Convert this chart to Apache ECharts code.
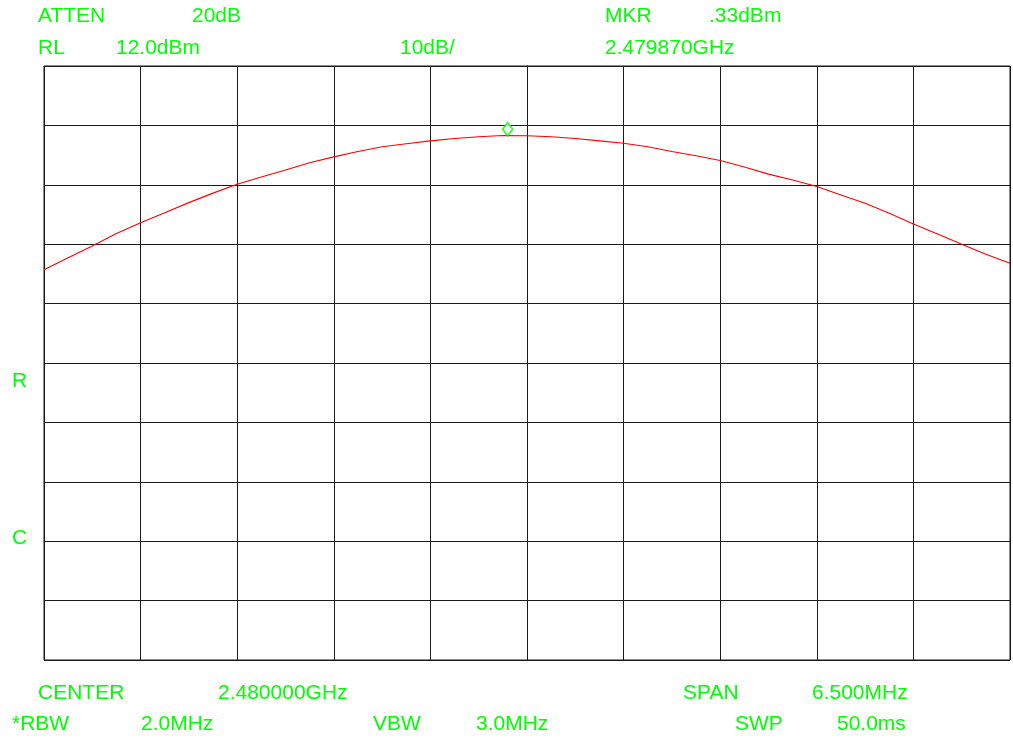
<!DOCTYPE html>
<html>
<head>
<meta charset="utf-8">
<script src="https://cdn.jsdelivr.net/npm/echarts@6/dist/echarts.min.js"></script>
<style>
html,body{margin:0;padding:0;background:#fff;}
#chart{width:1013px;height:740px;}
</style>
</head>
<body>
<div id="chart"></div>
<script>
// Reference level and scale
const refLevel = 12.0;          // dBm (RL)
const dbPerDiv = 10;
const spanKHz = 6500;           // 6.500 MHz span
const divKHz = 650;

// Trace: frequency offsets from center (kHz) and level (dBm)
const freqOffsetsKHz = [
  -3250,-3087.5,-2925,-2762.5,-2600,-2437.5,-2275,-2112.5,-1950,-1787.5,
  -1625,-1462.5,-1300,-1137.5,-975,-812.5,-650,-487.5,-325,-162.5,
  0,162.5,325,487.5,650,812.5,975,1137.5,1300,1462.5,
  1625,1787.5,1950,2112.5,2275,2437.5,2600,2762.5,2925,3087.5,3250
];
const traceDbm = [
  -22.3,-20.3,-18.3,-16.2,-14.4,-12.7,-11.0,-9.4,-7.9,-6.7,
  -5.5,-4.3,-3.3,-2.4,-1.6,-1.1,-0.6,-0.2,0.1,0.3,
  0.25,0.1,-0.2,-0.6,-1.0,-1.6,-2.4,-3.1,-3.9,-5.0,
  -6.2,-7.2,-8.3,-9.7,-11.1,-12.8,-14.6,-16.3,-18.0,-19.7,-21.2
];

// Marker
const markerOffsetKHz = -130;   // 2.479870 GHz
const markerDbm = 0.33;

// Annotation texts
const topTexts = [
  ['ATTEN', 38, 16], ['20dB', 192, 16], ['MKR', 605, 16], ['.33dBm', 709, 16],
  ['RL', 38, 48], ['12.0dBm', 116, 48], ['10dB/', 400, 48], ['2.479870GHz', 605, 48]
];
const bottomTexts = [
  ['CENTER', 38, 693], ['2.480000GHz', 218, 693], ['SPAN', 683, 693], ['6.500MHz', 812, 693],
  ['*RBW', 12, 724], ['2.0MHz', 141, 724], ['VBW', 373, 724], ['3.0MHz', 476, 724],
  ['SWP', 735, 724], ['50.0ms', 837, 724]
];
const sideTexts = [['R', 12, 381], ['C', 12, 538]];

const green = '#00ff00';
const traceData = freqOffsetsKHz.map((f, i) => [f, traceDbm[i] - refLevel]);

const textEls = topTexts.concat(bottomTexts, sideTexts).map(t => ({
  type: 'text', left: t[1], top: t[2] - 10,
  style: { text: t[0], fill: green, font: '21px "Liberation Sans", Arial, sans-serif' }
}));

const chart = echarts.init(document.getElementById('chart'), null, {renderer: 'canvas'});
chart.setOption({
  animation: false,
  backgroundColor: '#ffffff',
  grid: { left: 44, top: 66, width: 966, height: 594, show: true, borderColor: '#1a1a1a', borderWidth: 1 },
  xAxis: {
    type: 'value', min: -spanKHz / 2, max: spanKHz / 2, interval: divKHz,
    axisLabel: { show: false }, axisTick: { show: false },
    axisLine: { show: true, lineStyle: { color: '#1a1a1a', width: 1 } },
    splitLine: { show: true, lineStyle: { color: '#1a1a1a', width: 1 } }
  },
  yAxis: {
    type: 'value', min: -10 * dbPerDiv, max: 0, interval: dbPerDiv,
    axisLabel: { show: false }, axisTick: { show: false },
    axisLine: { show: true, lineStyle: { color: '#1a1a1a', width: 1 } },
    splitLine: { show: true, lineStyle: { color: '#1a1a1a', width: 1 } }
  },
  series: [
    {
      type: 'line', data: traceData, showSymbol: false, smooth: false,
      lineStyle: { color: '#ff0000', width: 1.1 }, z: 3
    },
    {
      type: 'scatter', data: [[markerOffsetKHz, markerDbm - refLevel]],
      symbol: 'diamond', symbolSize: [10, 13], symbolOffset: [0, -6],
      itemStyle: { color: '#ffffff', borderColor: green, borderWidth: 1.8 }, z: 4
    }
  ],
  graphic: textEls
});
</script>
</body>
</html>
